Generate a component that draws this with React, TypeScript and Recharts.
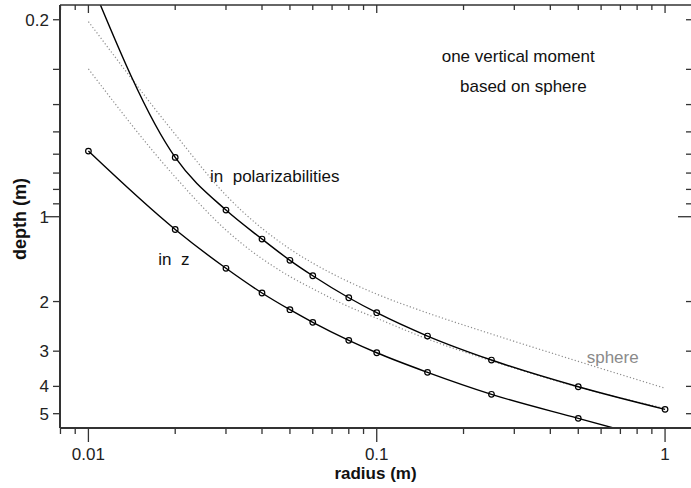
import React from "react";
import { LineChart, Line, XAxis, YAxis } from "recharts";

// radius (m) of the sampled points on the two solid curves
const radius = [0.01, 0.02, 0.03, 0.04, 0.05, 0.06, 0.08, 0.1, 0.15, 0.25, 0.5, 1];
// depth (m) – "in polarizabilities" (first point runs off the top)
const depthPolar = [0.14, 0.616, 0.947, 1.2, 1.428, 1.62, 1.939, 2.191, 2.651, 3.225, 4.012, 4.826];
// depth (m) – "in z" (last point runs off the bottom)
const depthZ = [0.585, 1.11, 1.524, 1.865, 2.138, 2.37, 2.746, 3.039, 3.566, 4.268, 5.194, 6.3];

// dotted "sphere" curves
const sphereRadius = [0.01, 0.02, 0.03, 0.05, 0.06, 0.08, 0.1, 0.15, 0.25, 0.5, 1];
const sphereHigh = [0.203, 0.51, 0.839, 1.302, 1.461, 1.702, 1.882, 2.195, 2.608, 3.261, 4.062];
const sphereLow = [0.299, 0.723, 1.115, 1.63, 1.801, 2.086, 2.292, 2.716, 3.246, 4.022, 4.792];

const xTicks = [0.008, 0.009, 0.01, 0.02, 0.03, 0.04, 0.05, 0.06, 0.07, 0.08, 0.09, 0.1, 0.2, 0.3, 0.4, 0.5, 0.6, 0.7, 0.8, 0.9, 1];
const xTickLabels = ["0.01", "0.1", "1"];
const yTicks = [0.2, 0.3, 0.4, 0.5, 0.6, 0.7, 0.8, 0.9, 1, 2, 3, 4, 5];
const yTickLabels = ["0.2", "1", "2", "3", "4", "5"];

const xDomain = [0.00797, 1.25];
const yDomain = [0.1773, 5.62];

const FONT = "'Liberation Sans', Arial, Helvetica, sans-serif";
const AXIS = "#333";

const polarData = radius.map((r, i) => ({ r, d: depthPolar[i] }));
const zData = radius.map((r, i) => ({ r, d: depthZ[i] }));
const highData = sphereRadius.map((r, i) => ({ r, d: sphereHigh[i] }));
const lowData = sphereRadius.map((r, i) => ({ r, d: sphereLow[i] }));

const isDecade = (v: number) => Math.abs(Math.log10(v) - Math.round(Math.log10(v))) < 1e-9;
const labelOf = (v: number, list: string[]) => list.find((s) => Math.abs(parseFloat(s) - v) < 1e-9);

const BottomTick = (props: any) => {
  const { x, y, payload } = props;
  const v = payload.value;
  const lab = labelOf(v, xTickLabels);
  return (
    <g>
      <line x1={x} x2={x} y1={y} y2={y + (isDecade(v) ? 14 : 6)} stroke={AXIS} strokeWidth={1.3} />
      {lab && (
        <text x={x} y={y + 32} textAnchor="middle" fontSize={17} fontFamily={FONT} fill="#222">
          {lab}
        </text>
      )}
    </g>
  );
};

const TopTick = (props: any) => {
  const { x, y, payload } = props;
  const v = payload.value;
  return <line x1={x} x2={x} y1={y} y2={y + (isDecade(v) ? 8 : 5)} stroke={AXIS} strokeWidth={1.3} />;
};

const LeftTick = (props: any) => {
  const { x, y, payload } = props;
  const v = payload.value;
  const lab = labelOf(v, yTickLabels);
  return (
    <g>
      <line x1={x - (isDecade(v) ? 15 : 7)} x2={x} y1={y} y2={y} stroke={AXIS} strokeWidth={1.3} />
      {lab && (
        <text x={x - 11} y={y + 6} textAnchor="end" fontSize={17} fontFamily={FONT} fill="#222">
          {lab}
        </text>
      )}
    </g>
  );
};

const RightTick = (props: any) => {
  const { x, y, payload } = props;
  const v = payload.value;
  return <line x1={x - (isDecade(v) ? 15 : 7)} x2={x} y1={y} y2={y} stroke={AXIS} strokeWidth={1.3} />;
};

const dotStyle = { r: 2.8, stroke: "#000", strokeWidth: 1.2, fill: "none" };
const dotted = { stroke: "#8c8c8c", strokeWidth: 1.2, strokeDasharray: "1.2 2.2" };

export default function App() {
  return (
    <div style={{ position: "absolute", left: 0, top: 0, width: 691, height: 488, overflow: "hidden", background: "#fff" }}>
      <LineChart width={701} height={488} margin={{ top: 0, right: 0, bottom: 0, left: 0 }}>
        <XAxis
          xAxisId="b"
          dataKey="r"
          type="number"
          scale="log"
          domain={xDomain}
          allowDataOverflow
          ticks={xTicks}
          interval={0}
          height={60}
          tickSize={0}
          tickMargin={0}
          tick={BottomTick}
          axisLine={{ stroke: AXIS, strokeWidth: 2 }}
        />
        <XAxis
          xAxisId="t"
          orientation="top"
          dataKey="r"
          type="number"
          scale="log"
          domain={xDomain}
          allowDataOverflow
          ticks={xTicks}
          interval={0}
          height={5}
          tickSize={0}
          tickMargin={0}
          tick={TopTick}
          axisLine={{ stroke: AXIS, strokeWidth: 1.6 }}
        />
        <YAxis
          yAxisId="l"
          dataKey="d"
          type="number"
          scale="log"
          reversed
          domain={yDomain}
          allowDataOverflow
          ticks={yTicks}
          interval={0}
          width={60}
          tickSize={0}
          tickMargin={0}
          tick={LeftTick}
          axisLine={{ stroke: AXIS, strokeWidth: 2 }}
        />
        <YAxis
          yAxisId="r"
          orientation="right"
          dataKey="d"
          type="number"
          scale="log"
          reversed
          domain={yDomain}
          allowDataOverflow
          ticks={yTicks}
          interval={0}
          width={8}
          tickSize={0}
          tickMargin={0}
          tick={RightTick}
          axisLine={{ stroke: AXIS, strokeWidth: 2 }}
        />

        <Line data={polarData} dataKey="d" xAxisId="t" yAxisId="r" stroke="none" dot={false} activeDot={false} isAnimationActive={false} />

        <Line data={highData} dataKey="d" xAxisId="b" yAxisId="l" type="monotone" {...dotted} dot={false} activeDot={false} isAnimationActive={false} />
        <Line data={lowData} dataKey="d" xAxisId="b" yAxisId="l" type="monotone" {...dotted} dot={false} activeDot={false} isAnimationActive={false} />
        <Line data={polarData} dataKey="d" xAxisId="b" yAxisId="l" type="monotone" stroke="#000" strokeWidth={1.4} dot={dotStyle} activeDot={false} isAnimationActive={false} />
        <Line data={zData} dataKey="d" xAxisId="b" yAxisId="l" type="monotone" stroke="#000" strokeWidth={1.4} dot={dotStyle} activeDot={false} isAnimationActive={false} />

        <text x={441.7} y={61.5} fontSize={17} fontFamily={FONT} fill="#111">one vertical moment</text>
        <text x={460} y={91.5} fontSize={17} fontFamily={FONT} fill="#111">based on sphere</text>
        <text x={210} y={181.5} fontSize={17} fontFamily={FONT} fill="#111" style={{ whiteSpace: "pre" }}>in  polarizabilities</text>
        <text x={158.3} y={265} fontSize={17} fontFamily={FONT} fill="#111" style={{ whiteSpace: "pre" }}>in  z</text>
        <text x={586.7} y={362.5} fontSize={17} fontFamily={FONT} fill="#8a8a8a">sphere</text>
        <text x={375.5} y={479} textAnchor="middle" fontSize={17} fontWeight="bold" fontFamily={FONT} fill="#111">radius (m)</text>
        <text x={26} y={219} textAnchor="middle" fontSize={18} fontWeight="bold" fontFamily={FONT} fill="#111" transform="rotate(-90 26 219)">depth (m)</text>
      </LineChart>
    </div>
  );
}
